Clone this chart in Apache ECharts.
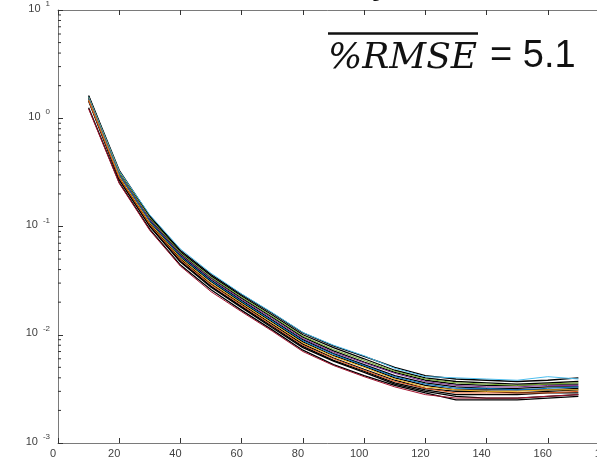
<!DOCTYPE html>
<html><head><meta charset="utf-8">
<script src="https://cdn.jsdelivr.net/npm/echarts@6/dist/echarts.min.js"></script>
<style>html,body{margin:0;padding:0;background:#fff;}#c{width:597px;height:464px;}</style>
</head><body><div id="c"></div>
<script>
const xValues = [10,20,30,40,50,60,70,80,90,100,110,120,130,140,150,160,170];
const xTicks = [0,20,40,60,80,100,120,140,160,180];
const yTicks = [0.001,0.01,0.1,1,10];
const minorTicks = [0.002,0.003,0.004,0.005,0.006,0.007,0.008,0.009,
  0.02,0.03,0.04,0.05,0.06,0.07,0.08,0.09,
  0.2,0.3,0.4,0.5,0.6,0.7,0.8,0.9,
  2,3,4,5,6,7,8,9];
const s01 = [1.62,0.33,0.125,0.060,0.036,0.0235,0.0158,0.0104,0.0079,0.0063,0.0050,0.0042,0.0039,0.0038,0.0037,0.0038,0.0040];
const s02 = [1.58,0.325,0.128,0.062,0.037,0.0238,0.0160,0.0105,0.0080,0.0064,0.0049,0.0041,0.0040,0.0039,0.0038,0.0041,0.0039];
const s03 = [1.60,0.32,0.122,0.058,0.035,0.0228,0.0152,0.0100,0.0076,0.0060,0.0047,0.0040,0.0037,0.0036,0.0035,0.0036,0.0037];
const s04 = [1.55,0.315,0.12,0.057,0.034,0.0222,0.0148,0.0097,0.0073,0.0058,0.0046,0.0039,0.0036,0.0035,0.0034,0.0035,0.0036];
const s05 = [1.57,0.31,0.118,0.056,0.0335,0.0218,0.0145,0.0095,0.0071,0.0056,0.0045,0.0038,0.0035,0.0034,0.0034,0.0035,0.0035];
const s06 = [1.52,0.305,0.116,0.055,0.033,0.0212,0.0141,0.0092,0.0069,0.0055,0.0044,0.0037,0.0034,0.0033,0.0033,0.0034,0.0034];
const s07 = [1.54,0.30,0.114,0.054,0.032,0.0207,0.0137,0.0090,0.0067,0.0053,0.0042,0.0036,0.0033,0.0032,0.0032,0.0033,0.0033];
const s08 = [1.50,0.30,0.112,0.053,0.0315,0.0203,0.0134,0.0088,0.0066,0.0052,0.0041,0.0035,0.0032,0.0032,0.0031,0.0032,0.0033];
const s09 = [1.52,0.295,0.11,0.052,0.031,0.0199,0.0131,0.0086,0.0064,0.0051,0.0040,0.0034,0.0031,0.0031,0.0031,0.0031,0.0032];
const s10 = [1.48,0.29,0.108,0.051,0.030,0.0195,0.0128,0.0084,0.0063,0.0050,0.0039,0.0033,0.0031,0.0030,0.0030,0.0031,0.0031];
const s11 = [1.50,0.285,0.106,0.050,0.0295,0.0191,0.0125,0.0082,0.0061,0.0048,0.0038,0.0032,0.0030,0.0030,0.0029,0.0030,0.0031];
const s12 = [1.46,0.28,0.104,0.049,0.029,0.0187,0.0122,0.0080,0.0060,0.0047,0.0037,0.0032,0.0029,0.0029,0.0029,0.0029,0.0030];
const s13 = [1.47,0.275,0.102,0.048,0.028,0.0182,0.0119,0.0078,0.0058,0.0046,0.0036,0.0031,0.0028,0.0028,0.0028,0.0029,0.0029];
const s14 = [1.44,0.27,0.10,0.047,0.0275,0.0178,0.0116,0.0076,0.0057,0.0045,0.0035,0.0030,0.0027,0.0026,0.0026,0.0027,0.0028];
const s15 = [1.25,0.255,0.094,0.044,0.026,0.0168,0.0111,0.0072,0.0053,0.0042,0.0034,0.0029,0.0025,0.0025,0.0025,0.0026,0.0027];
const s16 = [1.22,0.25,0.092,0.043,0.025,0.0163,0.0108,0.0070,0.0052,0.0041,0.0033,0.0028,0.0026,0.0026,0.0026,0.0027,0.0028];
const seriesList = [s01,s02,s03,s04,s05,s06,s07,s08,s09,s10,s11,s12,s13,s14,s15,s16];
const seriesColors = ['#000000','#4DBEEE','#000000','#77AC30','#000000','#7E2F8E','#000000','#0072BD',
  '#000000','#EDB120','#000000','#D95319','#000000','#000000','#000000','#A2142F'];
const annotationLeft = '%RMSE';
const annotationRight = '= 5.1';

const chart = echarts.init(document.getElementById('c'), null, {renderer:'canvas'});
const axisGray = '#7a7a7a';
const labelColor = '#404040';
const series = seriesList.map((arr, i) => ({
  type: 'line', xAxisIndex: 0, yAxisIndex: 0, symbol: 'none', silent: true,
  data: arr.map((v, j) => [xValues[j], v]),
  lineStyle: {color: seriesColors[i], width: seriesColors[i] === '#000000' ? 1.3 : 1},
  z: seriesColors[i] === '#000000' ? 2 : 3
}));
series.push({
  type: 'custom', xAxisIndex: 0, yAxisIndex: 0, silent: true, z: 5,
  data: minorTicks.map(v => [0, v]),
  renderItem: function (params, api) {
    const p = api.coord([0, api.value(1)]);
    return {type: 'line', shape: {x1: p[0], y1: p[1], x2: p[0] + 3, y2: p[1]},
      style: {stroke: '#333', lineWidth: 1}};
  }
});
const xAxisBase = {type: 'value', min: 0, max: 180, interval: 20, splitLine: {show: false},
  axisLine: {show: true, onZero: false, lineStyle: {color: axisGray, width: 1}},
  axisTick: {show: true, inside: true, length: 5, lineStyle: {color: '#333'}}};
chart.setOption({
  animation: false,
  grid: {left: 58, top: 10, right: -12, bottom: 21, containLabel: false, outerBoundsMode: 'none'},
  xAxis: [
    Object.assign({}, xAxisBase, {position: 'bottom',
      axisLabel: {show: true, color: labelColor, fontFamily: 'Liberation Sans', fontSize: 11,
        margin: 5, padding: [0, 10, 0, 0], showMinLabel: true, showMaxLabel: true, hideOverlap: false,
        formatter: v => xTicks.includes(v) ? String(v) : ''}}),
    Object.assign({}, xAxisBase, {position: 'top', axisLabel: {show: false}})
  ],
  yAxis: [{
    type: 'log', logBase: 10, min: yTicks[0], max: yTicks[yTicks.length - 1], position: 'left',
    splitLine: {show: false},
    axisLine: {show: true, onZero: false, lineStyle: {color: axisGray, width: 1}},
    axisTick: {show: true, inside: true, length: 5, lineStyle: {color: '#333'}},
    axisLabel: {show: true, margin: 8, showMinLabel: true, showMaxLabel: true,
      formatter: v => '{b|10}{e|' + Math.round(Math.log10(v)) + '}',
      rich: {b: {fontFamily: 'Liberation Sans', fontSize: 11, color: labelColor, padding: [0, 0, 3, 0]},
        e: {fontFamily: 'Liberation Sans', fontSize: 8, color: labelColor, padding: [0, 0, 12, 5]}}}
  }],
  series: series,
  graphic: [
    {type: 'text', x: 328, y: 77, silent: true,
      style: {text: annotationLeft, font: 'italic 36px "DejaVu Serif"', fill: '#111',
        textAlign: 'left', textVerticalAlign: 'bottom', verticalAlign: 'bottom'}},
    {type: 'line', silent: true, shape: {x1: 328, y1: 33.5, x2: 478, y2: 33.5},
      style: {stroke: '#111', lineWidth: 2.5}},
    {type: 'text', x: 490, y: 76, silent: true,
      style: {text: annotationRight, font: '38px "Liberation Sans"', fill: '#111',
        textAlign: 'left', textVerticalAlign: 'bottom', verticalAlign: 'bottom'}},
    {type: 'text', x: 372, y: 2, silent: true,
      style: {text: 'y', font: '40px "Liberation Sans"', fill: '#111',
        textAlign: 'left', textVerticalAlign: 'bottom', verticalAlign: 'bottom'}}
  ]
});
</script></body></html>
